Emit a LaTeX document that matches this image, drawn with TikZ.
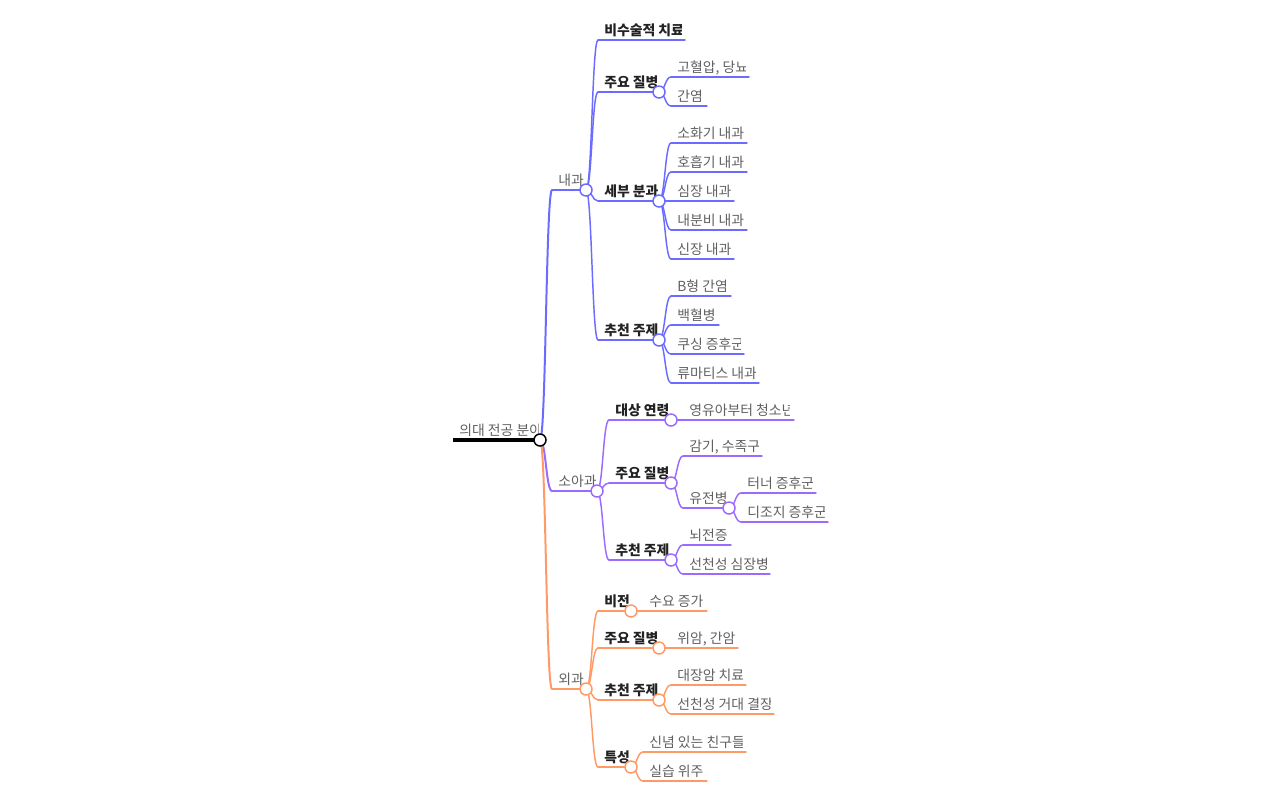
\documentclass[tikz,border=0pt]{standalone}
\usepackage{fontspec}
\setmainfont{Noto Sans CJK KR}
\usetikzlibrary{calc}
\definecolor{cb}{HTML}{6B6BFF}
\definecolor{cp}{HTML}{9B6BFF}
\definecolor{co}{HTML}{FF9A66}
\definecolor{tgray}{HTML}{606060}
\definecolor{tdark}{HTML}{222222}
\tikzset{
  tnorm/.style={text=tgray, font=\fontsize{10.4}{12}\selectfont},
  tbold/.style={text=tdark, font=\fontsize{10.4}{12}\selectfont\bfseries},
  lk1/.style={line width=1.5pt, line cap=round},
  lk2/.style={line width=1.1pt, line cap=round},
  rootline/.style={line width=2.3pt, black},
  dot/.style={circle, fill=white, line width=1.1pt, minimum size=9pt, inner sep=0pt},
}
\newcommand{\mmnode}[8]{%
  \begin{scope}
    \clip (#2,#4-24) rectangle (#5,#4-1);
    \node[#7, anchor=base west, inner sep=0pt] (#1) at (#2+6,#4-4.8) {#8};
  \end{scope}
  \coordinate (#1L) at (#2,#4);
  \coordinate (#1R) at (#3,#4);
  \draw[#6] (#1L) -- (#1R);
}
\newcommand{\mmlink}[3]{%
  \path ($(#2)!.5!(#3)$) coordinate (tmpm);
  \draw[#1] (#2) .. controls (tmpm |- #2) and (tmpm |- #3) .. (#3);
}
\begin{document}
\begin{tikzpicture}[x=0.75pt, y=-0.75pt]
\useasboundingbox (0,0) rectangle (1280,800);
% root
\mmnode{root}{453}{540}{440}{538}{rootline}{tnorm}{의대 전공 분야}
% 내과
\mmnode{n}{552}{586}{190}{585}{lk1,cb}{tnorm}{내과}
\mmnode{na}{598}{685}{40}{681}{lk2,cb}{tbold}{비수술적 치료}
\mmnode{nb}{598}{659}{92}{658}{lk2,cb}{tbold}{주요 질병}
\mmnode{nc}{598}{659}{201}{658}{lk2,cb}{tbold}{세부 분과}
\mmnode{nd}{598}{659}{340}{658}{lk2,cb}{tbold}{추천 주제}
\mmnode{nba}{671}{749}{77}{745}{lk2,cb}{tnorm}{고혈압, 당뇨}
\mmnode{nbb}{671}{707}{106}{703}{lk2,cb}{tnorm}{간염}
\mmnode{nca}{671}{747}{143}{743}{lk2,cb}{tnorm}{소화기 내과}
\mmnode{ncb}{671}{747}{172}{743}{lk2,cb}{tnorm}{호흡기 내과}
\mmnode{ncc}{671}{734}{201}{730}{lk2,cb}{tnorm}{심장 내과}
\mmnode{ncd}{671}{747}{230}{743}{lk2,cb}{tnorm}{내분비 내과}
\mmnode{nce}{671}{734}{259}{730}{lk2,cb}{tnorm}{신장 내과}
\mmnode{nda}{671}{731}{296}{727}{lk2,cb}{tnorm}{B형 간염}
\mmnode{ndb}{671}{719}{325}{715}{lk2,cb}{tnorm}{백혈병}
\mmnode{ndc}{671}{744}{354}{740}{lk2,cb}{tnorm}{쿠싱 증후군}
\mmnode{ndd}{671}{759}{383}{755}{lk2,cb}{tnorm}{류마티스 내과}
% 소아과
\mmnode{s}{552}{597}{491}{596}{lk1,cp}{tnorm}{소아과}
\mmnode{sa}{609}{671}{420}{670}{lk2,cp}{tbold}{대상 연령}
\mmnode{sb}{609}{671}{483}{670}{lk2,cp}{tbold}{주요 질병}
\mmnode{sc}{609}{671}{560}{670}{lk2,cp}{tbold}{추천 주제}
\mmnode{saa}{683}{794}{420}{789}{lk2,cp}{tnorm}{영유아부터 청소년}
\mmnode{sba}{683}{762}{456}{758}{lk2,cp}{tnorm}{감기, 수족구}
\mmnode{sbb}{683}{729}{508}{728}{lk2,cp}{tnorm}{유전병}
\mmnode{sbba}{741}{816}{493}{812}{lk2,cp}{tnorm}{터너 증후군}
\mmnode{sbbb}{741}{828}{522}{824}{lk2,cp}{tnorm}{디조지 증후군}
\mmnode{sca}{683}{731}{545}{727}{lk2,cp}{tnorm}{뇌전증}
\mmnode{scb}{683}{770}{574}{766}{lk2,cp}{tnorm}{선천성 심장병}
% 외과
\mmnode{w}{552}{586}{689}{585}{lk1,co}{tnorm}{외과}
\mmnode{wa}{598}{631}{611}{630}{lk2,co}{tbold}{비전}
\mmnode{wb}{598}{659}{648}{658}{lk2,co}{tbold}{주요 질병}
\mmnode{wc}{598}{659}{700}{658}{lk2,co}{tbold}{추천 주제}
\mmnode{wd}{598}{631}{767}{630}{lk2,co}{tbold}{특성}
\mmnode{waa}{643}{707}{611}{703}{lk2,co}{tnorm}{수요 증가}
\mmnode{wba}{671}{738}{648}{734}{lk2,co}{tnorm}{위암, 간암}
\mmnode{wca}{671}{746}{685}{742}{lk2,co}{tnorm}{대장암 치료}
\mmnode{wcb}{671}{774}{714}{770}{lk2,co}{tnorm}{선천성 거대 결장}
\mmnode{wda}{643}{746}{752}{742}{lk2,co}{tnorm}{신념 있는 친구들}
\mmnode{wdb}{643}{707}{781}{703}{lk2,co}{tnorm}{실습 위주}
% links
\mmlink{lk1,cb}{rootR}{nL}
\mmlink{lk1,cp}{rootR}{sL}
\mmlink{lk1,co}{rootR}{wL}
\mmlink{lk2,cb}{nR}{naL}
\mmlink{lk2,cb}{nR}{nbL}
\mmlink{lk2,cb}{nR}{ncL}
\mmlink{lk2,cb}{nR}{ndL}
\mmlink{lk2,cb}{nbR}{nbaL}
\mmlink{lk2,cb}{nbR}{nbbL}
\mmlink{lk2,cb}{ncR}{ncaL}
\mmlink{lk2,cb}{ncR}{ncbL}
\mmlink{lk2,cb}{ncR}{nccL}
\mmlink{lk2,cb}{ncR}{ncdL}
\mmlink{lk2,cb}{ncR}{nceL}
\mmlink{lk2,cb}{ndR}{ndaL}
\mmlink{lk2,cb}{ndR}{ndbL}
\mmlink{lk2,cb}{ndR}{ndcL}
\mmlink{lk2,cb}{ndR}{nddL}
\mmlink{lk2,cp}{sR}{saL}
\mmlink{lk2,cp}{sR}{sbL}
\mmlink{lk2,cp}{sR}{scL}
\mmlink{lk2,cp}{saR}{saaL}
\mmlink{lk2,cp}{sbR}{sbaL}
\mmlink{lk2,cp}{sbR}{sbbL}
\mmlink{lk2,cp}{sbbR}{sbbaL}
\mmlink{lk2,cp}{sbbR}{sbbbL}
\mmlink{lk2,cp}{scR}{scaL}
\mmlink{lk2,cp}{scR}{scbL}
\mmlink{lk2,co}{wR}{waL}
\mmlink{lk2,co}{wR}{wbL}
\mmlink{lk2,co}{wR}{wcL}
\mmlink{lk2,co}{wR}{wdL}
\mmlink{lk2,co}{waR}{waaL}
\mmlink{lk2,co}{wbR}{wbaL}
\mmlink{lk2,co}{wcR}{wcaL}
\mmlink{lk2,co}{wcR}{wcbL}
\mmlink{lk2,co}{wdR}{wdaL}
\mmlink{lk2,co}{wdR}{wdbL}
% circles
\node[dot, draw=black] (rootC) at (rootR) {};
\node[dot, draw=cb] (nC) at (nR) {};
\node[dot, draw=cb] (nbC) at (nbR) {};
\node[dot, draw=cb] (ncC) at (ncR) {};
\node[dot, draw=cb] (ndC) at (ndR) {};
\node[dot, draw=cp] (sC) at (sR) {};
\node[dot, draw=cp] (saC) at (saR) {};
\node[dot, draw=cp] (sbC) at (sbR) {};
\node[dot, draw=cp] (sbbC) at (sbbR) {};
\node[dot, draw=cp] (scC) at (scR) {};
\node[dot, draw=co] (wC) at (wR) {};
\node[dot, draw=co] (waC) at (waR) {};
\node[dot, draw=co] (wbC) at (wbR) {};
\node[dot, draw=co] (wcC) at (wcR) {};
\node[dot, draw=co] (wdC) at (wdR) {};
\end{tikzpicture}
\end{document}
